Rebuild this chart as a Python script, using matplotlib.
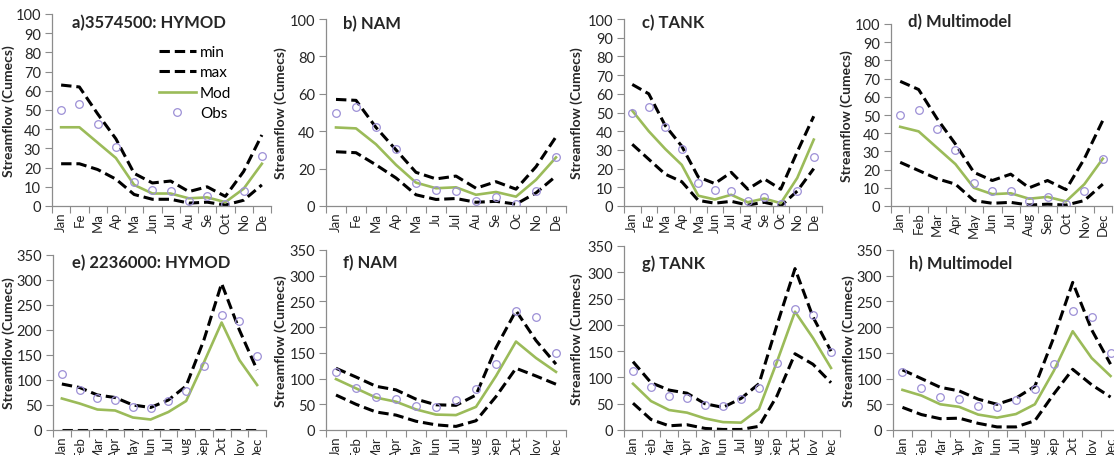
import matplotlib
matplotlib.use("Agg")
import matplotlib.pyplot as plt
import numpy as np

plt.rcParams["font.family"] = ["Lato", "DejaVu Sans"]

W, H = 1114, 456

# ---- data -------------------------------------------------------------
months_full = ["Jan", "Feb", "Mar", "Apr", "May", "Jun",
               "Jul", "Aug", "Sep", "Oct", "Nov", "Dec"]
labels_a = ["Jan", "Fe", "Ma", "Ap", "Ma", "Jun", "Jul", "Au", "Se", "Oct", "No", "De"]
labels_b = ["Jan", "Fe", "Ma", "Ap", "Ma", "Ju", "Jul", "Au", "Se", "Oc", "No", "De"]
labels_c = ["Jan", "Fe", "Ma", "Ap", "Ma", "Jun", "Jul", "Au", "Se", "Oc", "No", "De"]

obs_3574500 = [50, 53, 42.5, 30.5, 12.5, 8.5, 8, 2.5, 5, 1, 8, 26]
obs_2236000 = [112, 81, 64, 61, 47, 45, 59, 79, 128, 231, 219, 149]

# station 3574500
a_max = [63, 62, 48, 35, 17, 12, 13, 7.5, 10, 5, 18, 37]
a_min = [22, 22, 19, 14, 6, 3.5, 3.5, 1.5, 2, 0.5, 3, 11]
a_mod = [41, 41, 33, 25, 11, 6.5, 6.5, 4, 4.5, 2, 9, 22]

b_max = [57, 56.5, 42, 30, 18, 14.5, 16, 9.5, 13, 9, 21, 37]
b_min = [29, 28.5, 22, 15, 6, 3.5, 4, 2, 2.5, 1, 7, 16]
b_mod = [42, 41.5, 33, 22, 12.5, 9.5, 10, 6, 7.5, 5, 14, 26]

c_max = [65, 60, 43, 32, 15.5, 12, 18, 9, 14.5, 9, 29, 48]
c_min = [33, 25, 17, 13, 3, 1.5, 2.5, 0.5, 2, 0, 8, 20]
c_mod = [51, 40, 30.5, 22, 5.5, 3.5, 6, 2, 4, 1.5, 15, 35.5]

d_max = [68.5, 64, 48, 34, 18.5, 14, 17.5, 10, 14, 9, 26, 47]
d_min = [24, 19.5, 15, 12, 3, 1.5, 2, 0.5, 1, 0.5, 3, 12]
d_mod = [43.5, 41, 32, 23, 10, 6.5, 7, 4, 5, 2.5, 12, 26]

# station 2236000
e_max = [92, 85, 70, 65, 50, 45, 60, 88, 180, 293, 200, 120]
e_min = [0, 0, 0, 0, 0, 0, 0, 0, 0, 0, 0, 0]
e_mod = [63, 53, 41, 39, 25, 21, 36, 58, 135, 215, 140, 90]

f_max = [120, 103, 85, 78, 60, 49, 48, 68, 160, 232, 174, 128]
f_min = [68, 50, 35, 29, 17, 10, 7, 18, 65, 120, 105, 89]
f_mod = [99, 81, 63, 55, 40, 30, 29, 45, 105, 172, 140, 113]

g_max = [130, 90, 76, 70, 50, 43, 60, 88, 200, 307, 215, 150]
g_min = [51, 20, 8, 10, 3, 1, 1, 7, 65, 145, 125, 90]
g_mod = [88, 55, 38, 33, 22, 15, 14, 40, 130, 225, 175, 118]

h_max = [117, 100, 83, 76, 60, 50, 62, 85, 180, 287, 195, 128]
h_min = [44, 30, 22, 23, 13, 6, 6, 18, 70, 118, 88, 64]
h_mod = [78, 67, 50, 45, 30, 24, 31, 50, 115, 192, 140, 105]

titles = ["a)3574500: HYMOD", "b) NAM", "c) TANK", "d) Multimodel",
          "e) 2236000: HYMOD", "f) NAM", "g) TANK", "h) Multimodel"]

# ---- layout (pixel boxes: left, top, right, bottom) ----------------------
boxes = [(52, 15, 271, 207), (326, 20, 566, 207), (624, 20, 822, 207), (891, 25, 1112, 207),
         (53, 256, 266, 431), (326, 251, 566, 431), (624, 247, 840, 431), (893, 251, 1120, 431)]
title_pos = [(72, 23), (343, 24), (642, 23), (908, 22),
             (72, 263), (343, 263), (642, 264), (909, 264)]
ylabel_off = [37, 39, 41, 38, 38, 39, 41, 38]

panels = [
    (a_max, a_min, a_mod, obs_3574500, labels_a, 100, 10),
    (b_max, b_min, b_mod, obs_3574500, labels_b, 100, 20),
    (c_max, c_min, c_mod, obs_3574500, labels_c, 100, 10),
    (d_max, d_min, d_mod, obs_3574500, months_full, 100, 10),
    (e_max, e_min, e_mod, obs_2236000, months_full, 350, 50),
    (f_max, f_min, f_mod, obs_2236000, months_full, 350, 50),
    (g_max, g_min, g_mod, obs_2236000, months_full, 350, 50),
    (h_max, h_min, h_mod, obs_2236000, months_full, 350, 50),
]

GREEN = "#9bbb59"
OBS = "#9d90d6"
SPINE = "#8c8c8c"
TEXT = "#262626"

fig = plt.figure(figsize=(W / 100, H / 100), dpi=100)

for i, (mx, mn, mod, obs, xl, ytop, ystep) in enumerate(panels):
    l, t, r, b = boxes[i]
    ax = fig.add_axes([l / W, 1 - b / H, (r - l) / W, (b - t) / H])
    x = np.arange(12)
    ax.plot(x, mn, color="black", lw=2.2, dashes=(3.4, 1.6), label="min")
    ax.plot(x, mx, color="black", lw=2.2, dashes=(3.4, 1.6), label="max")
    ax.plot(x, mod, color=GREEN, lw=1.9, label="Mod")
    ax.plot(x, obs, ls="none", marker="o", ms=5.5, mfc="none", mec=OBS, mew=0.9, label="Obs")

    ax.set_xlim(-0.5, 11.5)
    ax.set_ylim(0, ytop)
    ax.set_yticks(np.arange(0, ytop + 1, ystep))
    ax.set_xticks(x)
    ax.set_xticklabels(xl, rotation=90, fontsize=9.5, color=TEXT)
    ax.set_xticks(np.arange(-0.5, 12, 1), minor=True)
    ax.tick_params(axis="x", which="major", length=0, pad=4)
    ax.tick_params(axis="x", which="minor", length=5, color=SPINE, width=0.8)
    ax.tick_params(axis="y", length=5, color=SPINE, width=0.8, labelsize=10.5,
                   labelcolor=TEXT, pad=3)
    for s in ("top", "right"):
        ax.spines[s].set_visible(False)
    for s in ("left", "bottom"):
        ax.spines[s].set_color(SPINE)
        ax.spines[s].set_linewidth(0.9)

    ax.set_ylabel("Streamflow (Cumecs)", fontsize=10, fontweight="bold", color=TEXT)
    ax.yaxis.set_label_coords(-ylabel_off[i] / (r - l), 0.5)

    tx, ty = title_pos[i]
    fig.text(tx / W, 1 - ty / H, titles[i], fontsize=12, fontweight="bold",
             color=TEXT, va="center", ha="left")

    if i == 0:
        ax.legend(loc="upper left", bbox_to_anchor=(0.46, 0.87), frameon=False,
                  fontsize=11, handlelength=2.4, handletextpad=0.3,
                  labelspacing=0.42, borderaxespad=0)

fig.savefig("out.png", dpi=100)
